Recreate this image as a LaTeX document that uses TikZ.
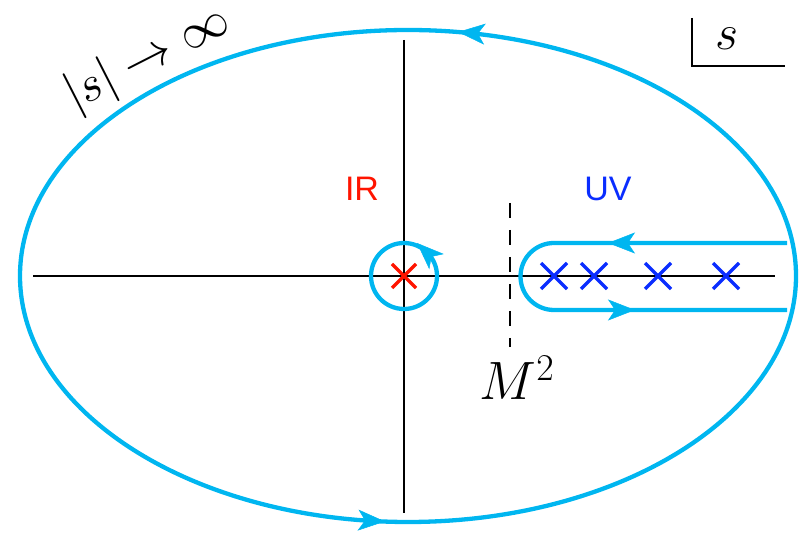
\RequirePackage{fix-cm}
\documentclass[tikz,border=0pt]{standalone}
\usepackage{fontspec}
\setsansfont{Liberation Sans}
\usetikzlibrary{arrows.meta}
\definecolor{ccyan}{RGB}{0,182,240}
\definecolor{cred}{RGB}{255,20,0}
\definecolor{cblue}{RGB}{10,45,255}
\begin{document}
\begin{tikzpicture}[x=1pt,y=1pt,
  contour/.style={draw=ccyan, line width=4.3pt},
  axisline/.style={draw=black, line width=1.7pt},
  tipc/.style={draw=ccyan, fill=ccyan, line width=0.5pt, -{Stealth[length=27pt,width=21pt,inset=7pt]}},
  crossb/.style={draw=cblue, line width=3.3pt},
  crossr/.style={draw=cred, line width=3.3pt},
  bigmath/.style={font=\fontsize{50}{60}\selectfont, inner sep=0pt},
  labsf/.style={font=\sffamily\fontsize{34}{40}\selectfont, inner sep=0pt}]
\useasboundingbox (0,0) rectangle (805,537);
% axes
\draw[axisline] (33,261) -- (775,261);
\draw[axisline] (404,497) -- (404,24);
% dashed threshold
\draw[axisline, dash pattern=on 15pt off 12pt] (510,334) -- (510,190);
% big contour
\draw[contour] (408,261) ellipse [x radius=388, y radius=246];
\draw[tipc] (460,504.84) -- (458,505);
\draw[tipc] (383,15.6) -- (385,15.5);
% small circle
\draw[contour] (404,261) circle [radius=33];
\draw[tipc] (421.4,289.8) -- (417,294);
% keyhole
\draw[contour] (787,294) -- (554,294) arc[start angle=90, end angle=270, radius=33.5] -- (787,227);
\draw[tipc] (611,294) -- (608,294);
\draw[tipc] (632,227) -- (635,227);
% crosses
\foreach \cx in {554,594,658,726}
  \draw[crossb] (\cx-13,248) -- (\cx+13,274) (\cx-13,274) -- (\cx+13,248);
\draw[crossr] (392,249) -- (416,273) (392,273) -- (416,249);
% labels
\node[labsf, text=cred] (ir) at (362,348) {IR};
\node[labsf, text=cblue] (uv) at (608,348) {UV};
\node[bigmath, font=\fontsize{54}{64}\selectfont, anchor=base] (m2) at (517,137) {$M^2$};
\node[bigmath, rotate=27] (lim) at (148,478) {$|s|\to\infty$};
\node[bigmath, anchor=base] (sv) at (727,487) {$s$};
\draw[draw=black, line width=1.4pt] (692,519) -- (692,471) -- (785,471);
\end{tikzpicture}
\end{document}
